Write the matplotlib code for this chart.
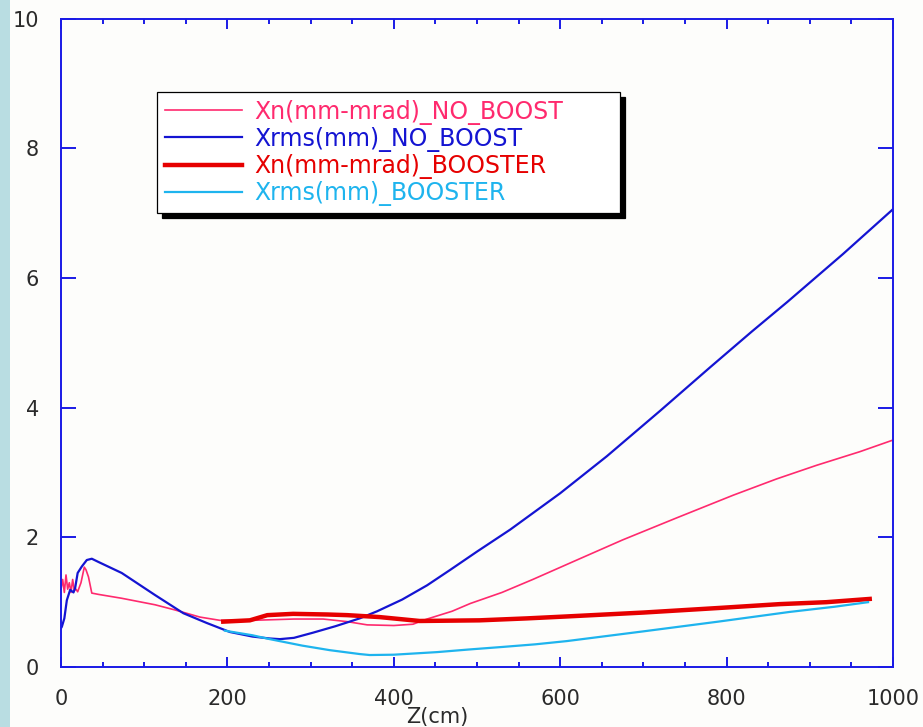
import matplotlib.pyplot as plt
from matplotlib.patches import Rectangle
from matplotlib.ticker import MultipleLocator

# emittance and beam size along z, without booster
z_nb_xn = [0, 2, 4, 6, 8, 10, 12, 14, 16, 18, 20, 24, 28, 30, 33, 37, 45, 73, 113,
           137, 167, 191, 230, 280, 315, 344, 368, 400, 423, 440, 470, 492, 530, 567,
           620, 675, 740, 808, 860, 908, 960, 1000]
xn_no_boost = [1.2, 1.35, 1.15, 1.42, 1.2, 1.3, 1.15, 1.35, 1.18, 1.2, 1.16, 1.3, 1.54,
               1.5, 1.39, 1.14, 1.12, 1.06, 0.96, 0.88, 0.77, 0.72, 0.72, 0.74, 0.74,
               0.70, 0.65, 0.64, 0.66, 0.74, 0.86, 0.98, 1.15, 1.35, 1.65, 1.96, 2.30,
               2.65, 2.90, 3.11, 3.32, 3.50]

z_nb_xr = [0, 1, 4, 7, 11, 15, 17, 20, 25, 31, 37, 45, 73, 113, 147, 175, 203, 230,
           251, 263, 280, 303, 330, 359, 380, 410, 440, 468, 500, 540, 600, 656, 720,
           780, 830, 873, 940, 1000]
xrms_no_boost = [0.6, 0.62, 0.75, 1.03, 1.19, 1.15, 1.22, 1.45, 1.55, 1.65, 1.67, 1.62,
                 1.45, 1.11, 0.83, 0.68, 0.54, 0.47, 0.44, 0.43, 0.45, 0.53, 0.63, 0.75,
                 0.86, 1.04, 1.26, 1.50, 1.78, 2.12, 2.68, 3.25, 3.95, 4.62, 5.17, 5.63,
                 6.37, 7.06]

# with booster (identical to the above before z ~ 195)
z_b_xn = [195, 227, 248, 279, 320, 344, 383, 431, 503, 560, 608, 700, 790, 864, 920, 972]
xn_booster = [0.70, 0.72, 0.80, 0.82, 0.81, 0.80, 0.77, 0.71, 0.72, 0.75, 0.78, 0.84,
              0.91, 0.97, 1.00, 1.05]

z_b_xr = [197, 230, 251, 290, 323, 359, 371, 400, 452, 490, 531, 570, 608, 700, 790,
          876, 930, 970]
xrms_booster = [0.56, 0.49, 0.43, 0.33, 0.26, 0.20, 0.185, 0.19, 0.23, 0.27, 0.31, 0.35,
                0.40, 0.55, 0.70, 0.85, 0.93, 1.00]

labels = ['Xn(mm-mrad)_NO_BOOST', 'Xrms(mm)_NO_BOOST',
          'Xn(mm-mrad)_BOOSTER', 'Xrms(mm)_BOOSTER']
colors = ['#ff2a6e', '#1414d2', '#e60000', '#1eb4ee']

plt.rcParams['font.family'] = 'DejaVu Sans'

fig = plt.figure(figsize=(9.23, 7.27), dpi=100, facecolor='#fdfdfb')
fig.patches.append(Rectangle((0, 0), 10 / 923, 1, transform=fig.transFigure,
                             facecolor='#b9dde2', edgecolor='none'))
ax = fig.add_axes([0.0661, 0.0825, 0.9014, 0.8920])
ax.set_facecolor('#fdfdfb')

ax.plot(z_nb_xn, xn_no_boost, color=colors[0], lw=1.2, label=labels[0])
ax.plot(z_nb_xr, xrms_no_boost, color=colors[1], lw=1.6, label=labels[1])
ax.plot(z_b_xn, xn_booster, color=colors[2], lw=3.2, label=labels[2])
ax.plot(z_b_xr, xrms_booster, color=colors[3], lw=1.6, label=labels[3])

ax.set_xlim(0, 1000)
ax.set_ylim(0, 10)
ax.xaxis.set_major_locator(MultipleLocator(200))
ax.xaxis.set_minor_locator(MultipleLocator(50))
ax.yaxis.set_major_locator(MultipleLocator(2))

for s in ax.spines.values():
    s.set_color('#1a1ae6')
    s.set_linewidth(1.4)
ax.tick_params(axis='both', which='both', direction='in', color='#1a1ae6',
               top=True, right=True, labelsize=15, labelcolor='#2a2a2a', pad=16)
ax.tick_params(axis='x', which='major', length=7.5, width=1.4)
ax.tick_params(axis='x', which='minor', length=3.8, width=1.4)
ax.tick_params(axis='y', which='major', length=11, width=1.4)

ax.set_xlabel('Z(cm)', fontsize=15, color='#2a2a2a')
ax.xaxis.set_label_coords(0.452, -0.061)

leg = ax.legend(loc='upper left', bbox_to_anchor=(0.1154, 0.70, 0.5565, 0.1867),
                mode='expand', borderaxespad=0, fontsize=17, labelcolor='linecolor',
                handlelength=3.3, handletextpad=0.5, borderpad=0.32,
                labelspacing=0.09, fancybox=False, framealpha=1,
                shadow={'color': 'black', 'alpha': 1, 'ox': 3.6, 'oy': -3.6})
leg.get_frame().set_edgecolor('black')
leg.get_frame().set_linewidth(0.9)

fig.savefig('out.png', dpi=100, facecolor=fig.get_facecolor())
